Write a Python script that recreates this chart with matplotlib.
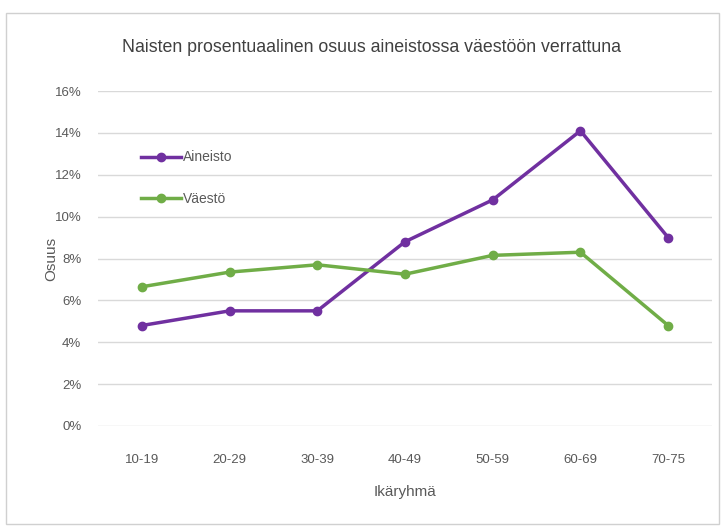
import matplotlib
matplotlib.use("Agg")
import matplotlib.pyplot as plt
from matplotlib.patches import Rectangle

categories = ["10-19", "20-29", "30-39", "40-49", "50-59", "60-69", "70-75"]
aineisto = [4.8, 5.5, 5.5, 8.8, 10.8, 14.1, 9.0]
vaesto = [6.65, 7.35, 7.7, 7.25, 8.15, 8.3, 4.8]
yticks = [0, 2, 4, 6, 8, 10, 12, 14, 16]

plt.rcParams['font.family'] = ['Liberation Sans Narrow', 'Liberation Sans', 'DejaVu Sans']
txt = '#595959'

fig = plt.figure(figsize=(7.25, 5.29), dpi=100)
fig.patches.append(Rectangle((0.008, 0.01), 0.984, 0.965, transform=fig.transFigure,
                             fill=False, edgecolor='#d0d0d0', linewidth=1))
ax = fig.add_axes([98/725, 1-426/529, (712-98)/725, (426-91)/529])
x = list(range(len(categories)))
ax.plot(x, aineisto, color='#7030A0', linewidth=2.5, marker='o', markersize=6, label='Aineisto')
ax.plot(x, vaesto, color='#70AD47', linewidth=2.5, marker='o', markersize=6, label='Väestö')
ax.set_xlim(-0.5, len(categories)-0.5)
ax.set_ylim(0, 16)
ax.set_yticks(yticks)
ax.set_yticklabels([f"{v}%" for v in yticks])
ax.set_xticks(x)
ax.set_xticklabels(categories)
ax.grid(axis='y', color='#d9d9d9', linewidth=1)
ax.set_axisbelow(True)
for s in ax.spines.values():
    s.set_visible(False)
ax.tick_params(axis='x', length=0, colors=txt, labelsize=9.5, pad=20)
ax.tick_params(axis='y', length=0, colors=txt, labelsize=9.5, pad=12)
ax.set_xlabel('Ikäryhmä', color=txt, fontsize=11, labelpad=14)
ax.set_ylabel('Osuus', color=txt, fontsize=11, labelpad=-3)
fig.text(372/725, 1-47/529, 'Naisten prosentuaalinen osuus aineistossa väestöön verrattuna',
         color='#404040', fontsize=12.8, ha='center', va='center')
leg = ax.legend(loc='upper left', bbox_to_anchor=(0.05, 0.86), frameon=False, fontsize=10,
                handlelength=2.9, handletextpad=0.1, labelspacing=2.0, labelcolor=txt)
fig.savefig('out.png', dpi=100)
